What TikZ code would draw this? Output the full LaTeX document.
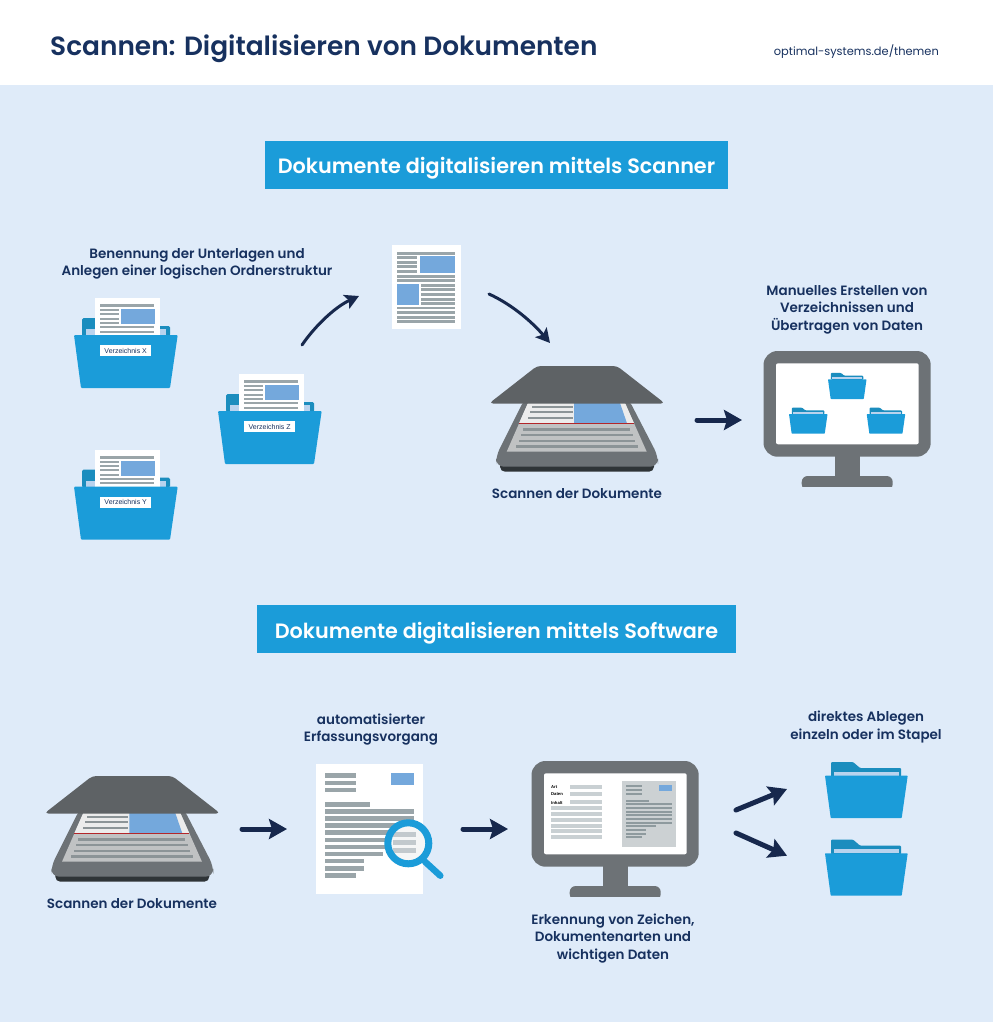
\documentclass[tikz,border=0pt]{standalone}
\usepackage{fontspec}
\setmainfont{Poppins}
\newfontfamily\semif{Poppins SemiBold}
\newfontfamily\labf{Liberation Sans}
\usetikzlibrary{arrows.meta}
\definecolor{bgblue}{HTML}{DFEBF9}
\definecolor{navy}{HTML}{17315F}
\definecolor{arrowc}{HTML}{17284D}
\definecolor{cyanb}{HTML}{1B9CD9}
\definecolor{tabb}{HTML}{1B8DBE}
\definecolor{innerb}{HTML}{B9D3EE}
\definecolor{lineg}{HTML}{9AA5A9}
\definecolor{imgb}{HTML}{74A8DC}
\definecolor{mong}{HTML}{6D7276}
\definecolor{lidg}{HTML}{5E6265}
\definecolor{based}{HTML}{2F3437}
\definecolor{scanl}{HTML}{8C9497}
\definecolor{paperl}{HTML}{ECECEC}
\definecolor{paperd}{HTML}{C0C2C3}
\definecolor{redl}{HTML}{B3262A}
\definecolor{barl}{HTML}{C9D0D3}
\definecolor{docg}{HTML}{CCD1D3}
\definecolor{linem}{HTML}{8E9A9E}
\tikzset{
  banner/.style={fill=cyanb,text=white,inner sep=0pt,minimum height=48pt,font={\semif\fontsize{20.75}{24}\selectfont}},
  captxt/.style={text=navy,inner sep=0pt,align=center,font={\semif\fontsize{13.5}{17.5}\selectfont}},
  flabel/.style={fill=white,text=navy,inner sep=0pt,minimum width=51.5pt,minimum height=11pt,font={\labf\fontsize{7}{8}\selectfont}},
  fieldlab/.style={text=black,inner sep=0pt,anchor=west,font={\labf\bfseries\fontsize{4.2}{5}\selectfont}},
  fatarrow/.style={draw=arrowc,line width=5pt,line cap=round,-{Stealth[length=18pt,width=20pt,inset=3pt]}},
  curvearrow/.style={draw=arrowc,line width=3pt,line cap=round,-{Stealth[length=14pt,width=15pt,inset=3pt]}}
}
\newcommand{\fullfolder}[4]{%
\begin{scope}[shift={(#2,#3)}]
  \fill[tabb,rounded corners=1.5pt] (8,1)--(8,-17)--(30,-17)--(30,-9)--(96,-9)--(96,1)--cycle;
  \fill[innerb] (11.7,0) rectangle (92,-6);
  \fill[white] (20.7,-37) rectangle (86,0);
  \fill[lineg] (26,-31) rectangle (80,-28);
  \foreach \yy in {-26,-21.7,-17.3,-13}{\fill[lineg] (26,\yy) rectangle (44.5,\yy+2);}
  \fill[imgb] (47,-26) rectangle (80.5,-11);
  \fill[lineg] (26,-9) rectangle (80,-7);
  \fill[lineg] (26,-4.5) rectangle (80,-2.5);
  \fill[cyanb,rounded corners=1pt] (0,0)--(103.7,0)--(96,53)--(7,53)--cycle;
  \node[flabel] (#1) at (51.7,15.5) {#4};
\end{scope}}
\newcommand{\plainfolder}[3]{%
\begin{scope}[shift={(#1,#2)},scale=#3]
  \fill[tabb,rounded corners=1pt] (6,1)--(6,-13.7)--(28,-13.7)--(35,-7.7)--(76,-7.7)--(76,1)--cycle;
  \fill[innerb] (9,0) rectangle (74,-4);
  \fill[cyanb,rounded corners=.6pt] (0,0)--(82.7,0)--(76.7,42.3)--(5.7,42.3)--cycle;
\end{scope}}
\newcommand{\scannerart}[2]{%
\begin{scope}[shift={(#1,#2)}]
  \fill[based,rounded corners=5pt] (500,455)--(654,455)--(654,471.7)--(500,471.7)--cycle;
  \fill[mong,rounded corners=8pt] (525,398)--(628,398)--(658,456)--(658,466.7)--(496,466.7)--(496,456)--cycle;
  \fill[paperd] (528,403)--(625,403)--(646.7,451.7)--(506.7,451.7)--cycle;
  \fill[paperl] (528,403)--(625,403)--(634,423.3)--(519,423.3)--cycle;
  \fill[imgb] (574,403)--(620,403)--(627,423.3)--(574,423.3)--cycle;
  \foreach \xa/\yy in {532/405.5,530/410.5,528/416.5}{\fill[scanl] (\xa,\yy) rectangle (573,\yy+2.5);}
  \foreach \xa/\xb/\yy in {523/630/428,521/633/433.5,519/635/439.5,516/638/445}{\fill[scanl] (\xa,\yy) rectangle (\xb,\yy+2.5);}
  \draw[redl,line width=1pt] (519,423.3)--(634,423.3);
  \fill[lidg,rounded corners=4pt] (537,366)--(617,366)--(665,403.5)--(489,403.5)--cycle;
\end{scope}}
\newcommand{\monitorart}[2]{%
\begin{scope}[shift={(#1,#2)}]
  \fill[mong] (835,450) rectangle (859.7,478);
  \fill[mong,rounded corners=6pt] (801.7,490)--(801.7,476)--(892.7,476)--(892.7,490)--cycle;
  \fill[bgblue] (795,487.3) rectangle (900,492);
  \fill[mong,rounded corners=14pt] (763.5,351) rectangle (930.7,456.7);
  \fill[white,rounded corners=2pt] (776,363.3) rectangle (918.7,444.3);
\end{scope}}
\begin{document}
\begin{tikzpicture}[x=1pt,y=-1pt]
\useasboundingbox (0,0) rectangle (993,1024);
\fill[white] (0,0) rectangle (993,1024);
\fill[bgblue] (0,85) rectangle (993,1022);
% header
\node[anchor=west,inner sep=0pt,text=navy,font={\semif\fontsize{26.4}{30}\selectfont}] (title) at (50,49) {Scannen: Digitalisieren von Dokumenten};
\node[anchor=east,inner sep=0pt,text=navy,font={\fontsize{11.4}{15}\selectfont}] (url) at (939,52) {optimal-systems.de/themen};
% banners
\node[banner,minimum width=463pt] (b1) at (496.5,165) {\raisebox{-9pt}[9pt][9pt]{Dokumente digitalisieren mittels Scanner}};
\node[banner,minimum width=479pt] (b2) at (496.5,629) {\raisebox{-9pt}[9pt][9pt]{Dokumente digitalisieren mittels Software}};
% captions
\node[captxt] (c1) at (197,264) {Benennung der Unterlagen und\\Anlegen einer logischen Ordnerstruktur};
\node[captxt] (c2) at (847,309.5) {Manuelles Erstellen von\\Verzeichnissen und\\Übertragen von Daten};
\node[captxt] (c3) at (577,494) {Scannen der Dokumente};
\node[captxt] (c4) at (132,904) {Scannen der Dokumente};
\node[captxt] (c5) at (371,729.5) {automatisierter\\Erfassungsvorgang};
\node[captxt] (c6) at (613,938.5) {Erkennung von Zeichen,\\Dokumentenarten und\\wichtigen Daten};
\node[captxt] (c7) at (866,727) {direktes Ablegen\\einzeln oder im Stapel};
% folders
\fullfolder{fx}{74}{335}{Verzeichnis X}
\fullfolder{fy}{74}{486.7}{Verzeichnis Y}
\fullfolder{fz}{218}{411}{Verzeichnis Z}
% loose page
\fill[white] (392,245.3) rectangle (461,329.3);
\foreach \ya/\yb in {251.7/255,274.7/277.7,279.3/282.3,306.7/309.3,311/314,315.7/318.7,320/323}{\fill[lineg] (397.3,\ya) rectangle (455.3,\yb);}
\foreach \ya/\yb in {256.3/259.3,261/264,265.3/268.3,270/273}{\fill[lineg] (397.3,\ya) rectangle (417,\yb);}
\foreach \ya/\yb in {284/287,288.3/291.3,293/296,297.7/300.7,302/305}{\fill[lineg] (421,\ya) rectangle (455.3,\yb);}
\fill[imgb] (420,256.3) rectangle (455.3,273);
\fill[imgb] (397.3,284) rectangle (418.7,305);
% scanners
\scannerart{0}{0}
\scannerart{-444.7}{410}
% monitor 1
\monitorart{0}{0}
\plainfolder{828}{379.3}{.466}
\plainfolder{789}{414}{.466}
\plainfolder{866.7}{414}{.466}
% monitor 2
\monitorart{-232}{410}
\foreach \ya in {784.7,792.3,800.3}{\fill[barl] (570,\ya) rectangle (601.7,\ya+4);}
\foreach \ya in {806,812,818,823.7,829.3,835.3}{\fill[barl] (551,\ya) rectangle (601.7,\ya+4);}
\node[fieldlab] (fa) at (551,786.7) {Art};
\node[fieldlab] (fd) at (551,794.3) {Daten};
\node[fieldlab] (fi) at (551,802.7) {Inhalt};
\fill[docg] (621.7,780.7) rectangle (676,847);
\foreach \ya/\xb in {785.3/642,789/642,792.7/642,800/649,803.3/671.7,807/671.7,810.7/671.7,814.3/671.7,818/671.7,821.7/671.7,825.3/655.7,829.3/646,833/646,836.3/642}{\fill[linem] (626,\ya) rectangle (\xb,\ya+2);}
\fill[imgb] (659.3,785.3) rectangle (671.7,791.3);
% captured page
\fill[white] (316,764) rectangle (423,894);
\foreach \ya/\xb in {773.3/355.7,780.7/355.7,787.7/355.7,802/369.7,809/414,816/414,823.3/414,830.3/414,837.7/414,844.7/414,851.7/382.7,858.7/363.7,866/363.7,873/355.7}{\fill[lineg] (325,\ya) rectangle (\xb,\ya+4.6);}
\fill[imgb] (390.7,773.3) rectangle (414,785);
\coordinate (lens) at (408.3,843.3);
\fill[white!90!lineg] (lens) circle (20.5);
\fill[barl!85!lineg] (393,832.3) rectangle (416,837.3);
\fill[barl!85!lineg] (393,840) rectangle (416,845);
\fill[barl!85!lineg] (393,848.3) rectangle (416,853.3);
\draw[cyanb,line width=7pt] (lens) circle (20.5);
\coordinate (ha) at (425,861.7);
\coordinate (hb) at (440.3,875.7);
\draw[cyanb,line width=6.5pt,line cap=round] (ha)--(hb);
% plain folders
\plainfolder{825}{775.7}{1}
\plainfolder{825}{853.3}{1}
% arrows
\coordinate (a1s) at (302,345); \coordinate (a1e) at (359,296);
\coordinate (a2s) at (489,294); \coordinate (a2e) at (550,343);
\coordinate (a3s) at (697,420); \coordinate (a3e) at (742,420);
\coordinate (a4s) at (242,829); \coordinate (a4e) at (287,829);
\coordinate (a5s) at (463,829); \coordinate (a5e) at (508,829);
\coordinate (a6s) at (736,810); \coordinate (a6e) at (787,789);
\coordinate (a7s) at (736,833); \coordinate (a7e) at (787,855.7);
\draw[curvearrow] (a1s) .. controls (315,326) and (335,307) .. (a1e);
\draw[curvearrow] (a2s) .. controls (513,305) and (533,323) .. (a2e);
\draw[fatarrow] (a3s)--(a3e);
\draw[fatarrow] (a4s)--(a4e);
\draw[fatarrow] (a5s)--(a5e);
\draw[fatarrow] (a6s)--(a6e);
\draw[fatarrow] (a7s)--(a7e);
\end{tikzpicture}
\end{document}
